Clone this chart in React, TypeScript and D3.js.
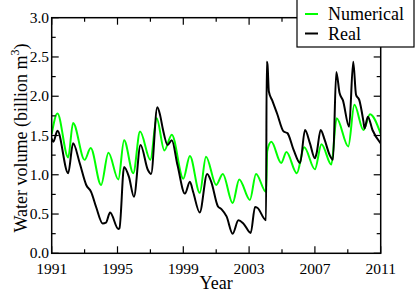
import React from "react";
import * as d3 from "d3";

const numYears = [1991.0, 1991.35, 1992.0, 1992.3, 1993.0, 1993.37, 1994.0, 1994.45, 1995.05, 1995.4, 1995.96, 1996.37, 1997.0, 1997.38, 1997.85, 1998.3, 1999.0, 1999.4, 2000.0, 2000.38, 2001.0, 2001.4, 2002.0, 2002.4, 2003.05, 2003.42, 2004.03, 2004.1, 2004.35, 2004.95, 2005.27, 2005.9, 2006.35, 2007.0, 2007.4, 2008.0, 2008.32, 2009.03, 2009.4, 2009.95, 2010.35, 2011.0];
const numValues = [1.52, 1.78, 1.22, 1.66, 1.19, 1.34, 0.87, 1.28, 0.94, 1.44, 1.02, 1.55, 1.19, 1.72, 1.31, 1.51, 0.95, 1.24, 0.77, 1.23, 0.87, 1.01, 0.64, 0.94, 0.68, 1.01, 0.78, 1.30, 1.42, 1.15, 1.29, 1.02, 1.35, 1.07, 1.39, 1.13, 1.72, 1.36, 1.89, 1.57, 1.77, 1.52];

const realYears = [1991.0, 1991.1, 1991.35, 1992.0, 1992.3, 1992.7, 1993.1, 1993.4, 1993.7, 1994.1, 1994.3, 1994.55, 1995.05, 1995.12, 1995.4, 1995.7, 1996.0, 1996.4, 1996.85, 1997.04, 1997.42, 1997.6, 1997.75, 1998.05, 1998.3, 1998.65, 1999.1, 1999.4, 1999.6, 2000.0, 2000.45, 2000.7, 2001.1, 2001.33, 2001.63, 2002.0, 2002.35, 2002.65, 2003.1, 2003.36, 2003.5, 2004.03, 2004.07, 2004.12, 2004.2, 2004.4, 2004.7, 2005.1, 2005.33, 2005.7, 2006.1, 2006.4, 2006.7, 2007.0, 2007.1, 2007.35, 2007.6, 2007.9, 2008.1, 2008.3, 2008.5, 2008.7, 2009.08, 2009.33, 2009.5, 2009.7, 2009.95, 2010.02, 2010.22, 2010.5, 2011.0];
const realValues = [1.46, 1.42, 1.56, 1.02, 1.40, 1.15, 0.87, 0.78, 0.59, 0.38, 0.39, 0.52, 0.31, 0.32, 1.10, 0.97, 0.72, 1.38, 1.06, 1.01, 1.86, 1.75, 1.59, 1.38, 1.44, 1.12, 0.76, 0.91, 0.78, 0.52, 1.01, 0.91, 0.60, 0.56, 0.47, 0.25, 0.42, 0.38, 0.26, 0.59, 0.58, 0.42, 2.44, 2.40, 2.06, 1.95, 1.78, 1.55, 1.53, 1.32, 1.15, 1.57, 1.40, 1.21, 1.27, 1.57, 1.44, 1.25, 1.19, 2.31, 2.04, 1.95, 1.61, 2.44, 2.02, 1.95, 1.68, 1.59, 1.74, 1.57, 1.40];

const xMajorTicks = [1991, 1995, 1999, 2003, 2007, 2011];
const xMinorTicks = [1993, 1997, 2001, 2005, 2009];
const yMajorTicks = [0, 0.5, 1.0, 1.5, 2.0, 2.5, 3.0];
const yMinorTicks = [0.25, 0.75, 1.25, 1.75, 2.25, 2.75];

const seriesNames = ["Numerical", "Real"];
const seriesColors = ["#00ff00", "#000000"];

export default function App() {
  const W = 415, H = 293;
  const L = 51.7, R = 380.7, T = 17.7, B = 253.3;
  const x = d3.scaleLinear().domain([1991, 2011]).range([L, R]);
  const y = d3.scaleLinear().domain([0, 3]).range([B, T]);
  const gen = d3
    .line<[number, number]>()
    .x((d) => x(d[0]))
    .y((d) => y(d[1]))
    .curve(d3.curveMonotoneX);
  const numPts = numYears.map((t, i) => [t, numValues[i]] as [number, number]);
  const realPts = realYears.map((t, i) => [t, realValues[i]] as [number, number]);
  const ff = "'Liberation Serif', 'DejaVu Serif', 'Times New Roman', serif";
  const ts = { fontFamily: ff };
  const major = 7, minor = 4;
  return (
    <svg width={W} height={H} style={{ position: "absolute", left: 0, top: 0, background: "#fff" }}>
      <rect x={0} y={0} width={W} height={H} fill="#fff" />
      <defs>
        <clipPath id="plot">
          <rect x={L} y={T} width={R - L} height={B - T} />
        </clipPath>
      </defs>
      <g clipPath="url(#plot)">
        <path d={gen(numPts) || ""} fill="none" stroke={seriesColors[0]} strokeWidth={2} strokeLinejoin="round" />
        <path d={gen(realPts) || ""} fill="none" stroke={seriesColors[1]} strokeWidth={2} strokeLinejoin="round" />
      </g>
      <rect x={L} y={T} width={R - L} height={B - T} fill="none" stroke="#000" strokeWidth={1.5} />
      {xMajorTicks.map((t) => (
        <g key={"xm" + t}>
          <line x1={x(t)} x2={x(t)} y1={B} y2={B - major} stroke="#000" strokeWidth={1.2} />
          <line x1={x(t)} x2={x(t)} y1={T} y2={T + major} stroke="#000" strokeWidth={1.2} />
          <text x={x(t)} y={274} fontSize={15.5} textAnchor="middle" style={ts}>{t}</text>
        </g>
      ))}
      {xMinorTicks.map((t) => (
        <g key={"xn" + t}>
          <line x1={x(t)} x2={x(t)} y1={B} y2={B - minor} stroke="#000" strokeWidth={1.2} />
          <line x1={x(t)} x2={x(t)} y1={T} y2={T + minor} stroke="#000" strokeWidth={1.2} />
        </g>
      ))}
      {yMajorTicks.map((v) => (
        <g key={"ym" + v}>
          <line x1={L} x2={L + major} y1={y(v)} y2={y(v)} stroke="#000" strokeWidth={1.2} />
          <line x1={R} x2={R - major} y1={y(v)} y2={y(v)} stroke="#000" strokeWidth={1.2} />
          <text x={49} y={y(v)} dy="0.33em" fontSize={15.5} textAnchor="end" style={ts}>{v.toFixed(1)}</text>
        </g>
      ))}
      {yMinorTicks.map((v) => (
        <g key={"yn" + v}>
          <line x1={L} x2={L + minor} y1={y(v)} y2={y(v)} stroke="#000" strokeWidth={1.2} />
          <line x1={R} x2={R - minor} y1={y(v)} y2={y(v)} stroke="#000" strokeWidth={1.2} />
        </g>
      ))}
      <text x={(L + R) / 2} y={289} fontSize={18} textAnchor="middle" style={ts}>Year</text>
      <text transform={`translate(27,${138}) rotate(-90)`} fontSize={18} textAnchor="middle" style={ts}>
        Water volume (billion m<tspan dy="-8" fontSize={12}>3</tspan><tspan dy="8">)</tspan>
      </text>
      <rect x={297} y={-1} width={117} height={48} fill="#fff" stroke="#000" strokeWidth={1.2} />
      {seriesNames.map((n, i) => (
        <g key={n}>
          <line x1={305} x2={318} y1={14 + i * 19.5} y2={14 + i * 19.5} stroke={seriesColors[i]} strokeWidth={2} />
          <text x={328} y={20 + i * 19.5} fontSize={18} style={ts}>{n}</text>
        </g>
      ))}
    </svg>
  );
}
